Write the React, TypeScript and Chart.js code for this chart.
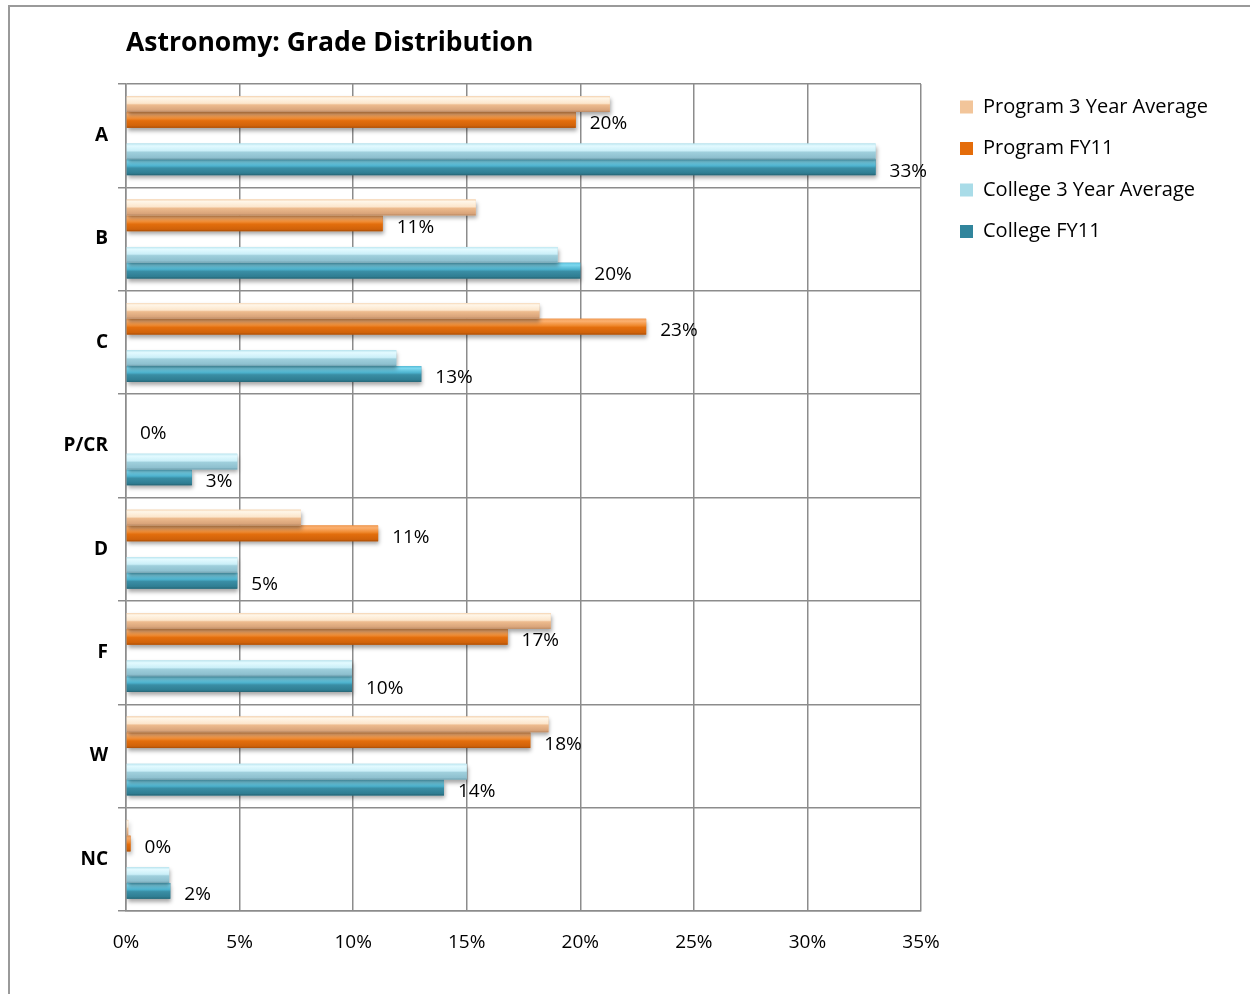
import React, { useEffect, useRef } from 'react';
import { Chart, registerables } from 'chart.js';

Chart.register(...registerables);

const categories = ['A', 'B', 'C', 'P/CR', 'D', 'F', 'W', 'NC'];
const seriesNames = ['Program 3 Year Average', 'Program FY11', 'College 3 Year Average', 'College FY11'];
const program3yr = [21.3, 15.4, 18.2, 0, 7.7, 18.7, 18.6, 0.1];
const programFY11 = [19.8, 11.3, 22.9, 0, 11.1, 16.8, 17.8, 0.2];
const college3yr = [33.0, 19.0, 11.9, 4.9, 4.9, 9.95, 15.0, 1.9];
const collegeFY11 = [33.0, 20.0, 13.0, 2.9, 4.9, 9.95, 14.0, 1.95];
const xTickValues = [0, 5, 10, 15, 20, 25, 30, 35];

const FONT = '"Open Sans", Lato, sans-serif';
const GRID = '#8c8c8c';

const baseColors = ['#F2C59A', '#E46C0A', '#A9DCE8', '#31859C'];
const borderColors = ['#C8956A', '#A94E08', '#6E9FAE', '#215F70'];
const gradStops: [number, string][][] = [
  [[0, '#F6D8B8'], [0.12, '#FFF6E8'], [0.45, '#FCE6CC'], [0.55, '#EDBB8E'], [0.88, '#D9A47A'], [1, '#B98863']],
  [[0, '#F29C55'], [0.15, '#FBB070'], [0.42, '#F08A30'], [0.55, '#E36E0D'], [0.88, '#D0620A'], [1, '#A94E08']],
  [[0, '#BDE6F0'], [0.15, '#E3FAFF'], [0.45, '#CBEFF8'], [0.55, '#9FCFDC'], [0.88, '#8EC0CF'], [1, '#6E9FAE']],
  [[0, '#5CC2DE'], [0.15, '#7DD8EF'], [0.42, '#4DB3CF'], [0.55, '#3A8EA5'], [0.88, '#2F7D92'], [1, '#256473']],
];
// dataset index -> series index (dataset 2 is an empty spacer)
const seriesOf = [0, 1, -1, 2, 3];
const labelledDatasets = [1, 4];

const barStyler = {
  id: 'barStyler',
  beforeDatasetDraw(chart: any, args: any) {
    const s = seriesOf[args.index];
    if (s < 0) return;
    const ctx = chart.ctx;
    ctx.save();
    ctx.shadowColor = 'rgba(0,0,0,0.35)';
    ctx.shadowBlur = 4;
    ctx.shadowOffsetX = 1;
    ctx.shadowOffsetY = 3;
  },
  afterDatasetDraw(chart: any, args: any) {
    const s = seriesOf[args.index];
    if (s < 0) return;
    const ctx = chart.ctx;
    ctx.restore();
    ctx.save();
    args.meta.data.forEach((el: any) => {
      const left = Math.min(el.x, el.base);
      const w = Math.abs(el.x - el.base);
      if (w <= 0) return;
      const top = el.y - el.height / 2;
      const g = ctx.createLinearGradient(0, top, 0, top + el.height);
      gradStops[s].forEach(([o, c]) => g.addColorStop(o, c));
      ctx.fillStyle = g;
      ctx.fillRect(left, top, w, el.height);
    });
    ctx.restore();
  },
  afterDatasetsDraw(chart: any) {
    const ctx = chart.ctx;
    ctx.save();
    ctx.font = `19px ${FONT}`;
    ctx.fillStyle = '#000';
    ctx.textAlign = 'left';
    ctx.textBaseline = 'middle';
    labelledDatasets.forEach((di) => {
      const meta = chart.getDatasetMeta(di);
      const data = chart.data.datasets[di].data as number[];
      meta.data.forEach((el: any, i: number) => {
        ctx.fillText(Math.round(data[i]) + '%', el.x + 14, el.y + 4);
      });
    });
    ctx.restore();
  },
};

export default function App() {
  const ref = useRef<HTMLCanvasElement>(null);

  useEffect(() => {
    const canvas = ref.current;
    if (!canvas) return;

    // layout numbers
    const W = 1250;
    const legendPad = 21.5;
    const boxW = 13;
    const legendFontSize = 20;
    const legendLeft = 960 - legendPad;
    const plotRight = 921;
    const mctx = document.createElement('canvas').getContext('2d')!;
    mctx.font = `${legendFontSize}px ${FONT}`;
    const maxText = Math.max(...seriesNames.map((n) => mctx.measureText(n).width));
    const legendWidth = legendPad + boxW + legendFontSize / 2 + maxText + 10;
    const rightPad = Math.max(0, W - legendLeft - legendWidth);

    const mk = (label: string, data: (number | null)[], i: number) => ({
      label,
      data,
      backgroundColor: i >= 0 ? baseColors[i] : 'rgba(0,0,0,0)',
      borderColor: i >= 0 ? borderColors[i] : 'rgba(0,0,0,0)',
      borderWidth: 0,
      xAxisID: 'x',
      yAxisID: 'y',
    });

    const chart = new Chart(canvas, {
      type: 'bar',
      data: {
        labels: categories,
        datasets: [
          mk(seriesNames[0], program3yr, 0),
          mk(seriesNames[1], programFY11, 1),
          mk('', categories.map(() => null), -1),
          mk(seriesNames[2], college3yr, 2),
          mk(seriesNames[3], collegeFY11, 3),
        ],
      },
      options: {
        indexAxis: 'y',
        responsive: false,
        animation: false,
        devicePixelRatio: 1,
        layout: { padding: { top: 0, left: 0, right: rightPad, bottom: 0 } },
        datasets: { bar: { categoryPercentage: 0.763, barPercentage: 1.0 } },
        scales: {
          x: {
            type: 'linear',
            position: 'bottom',
            min: 0,
            max: 35,
            afterBuildTicks: (s: any) => {
              s.ticks = xTickValues.map((v) => ({ value: v }));
            },
            afterFit: (s: any) => {
              s.height = 994 - 911;
            },
            ticks: {
              callback: (v: any) => v + '%',
              color: '#000',
              font: { family: FONT, size: 19 },
              padding: 20,
              maxRotation: 0,
            },
            grid: { color: GRID, lineWidth: 1.5, drawTicks: false },
            border: { color: GRID, width: 1.5 },
          },
          y: {
            type: 'category',
            position: 'left',
            afterFit: (s: any) => {
              s.width = 126;
            },
            ticks: {
              color: '#000',
              font: { family: FONT, size: 19, weight: 'bold' },
              padding: 10,
            },
            grid: { color: GRID, lineWidth: 1.5, offset: true, tickLength: 8, drawTicks: true },
            border: { color: GRID, width: 1.5 },
          },
          y2: {
            type: 'category',
            position: 'right',
            display: true,
            afterFit: (s: any) => {
              s.width = legendLeft - plotRight;
            },
            ticks: { display: false },
            grid: { display: false },
            border: { display: false },
          },
        },
        plugins: {
          title: {
            display: true,
            text: 'Astronomy: Grade Distribution',
            align: 'start',
            fullSize: false,
            color: '#000',
            font: { family: FONT, size: 26.5, weight: 'bold' },
            padding: { top: 28, bottom: 24.2 },
          },
          legend: {
            display: true,
            position: 'right',
            align: 'start',
            fullSize: true,
            maxWidth: 600,
            title: { display: true, text: '', font: { size: 10 }, padding: { top: 31.75, bottom: 31.75 } },
            labels: {
              filter: (item: any) => item.datasetIndex !== 2,
              boxWidth: boxW,
              boxHeight: 13,
              padding: legendPad,
              color: '#000',
              font: { family: FONT, size: legendFontSize },
            },
          },
          tooltip: { enabled: false },
        },
      },
      plugins: [barStyler],
    });

    return () => chart.destroy();
  }, []);

  return (
    <div style={{ position: 'absolute', left: 0, top: 0, width: 1250, height: 994, overflow: 'hidden', background: '#fff' }}>
      <canvas ref={ref} width={1250} height={994} style={{ position: 'absolute', left: 0, top: 0, width: 1250, height: 994 }} />
      <div
        style={{
          position: 'absolute',
          left: 8,
          top: 5,
          width: 1242,
          height: 989,
          borderLeft: '2px solid #9a9a9a',
          borderTop: '2px solid #9a9a9a',
          boxSizing: 'border-box',
          pointerEvents: 'none',
        }}
      />
    </div>
  );
}
